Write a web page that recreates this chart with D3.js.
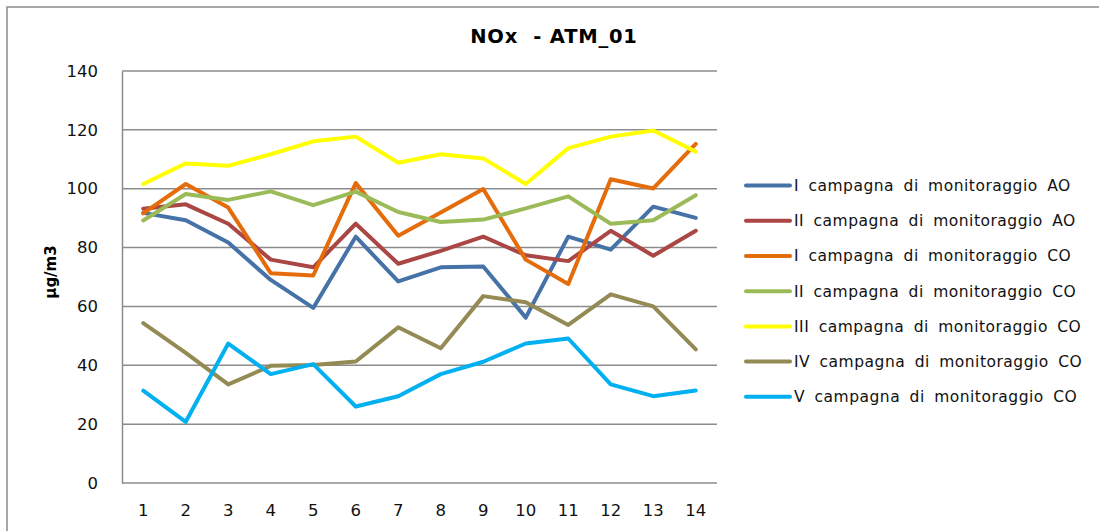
<!DOCTYPE html>
<meta charset="utf-8">
<style>
body { margin: 0; background: #fff; }
svg { font-family: "DejaVu Sans", Verdana, sans-serif; }
.grid line { stroke: #8c8c8c; stroke-width: 1.5px; }
.tick text { font-family: "DejaVu Sans", Verdana, sans-serif; font-size: 16.5px; fill: #111; }
.legend text { font-size: 15.5px; letter-spacing: 0.5px; word-spacing: 4px; fill: #111; }
</style>
<svg width="1099" height="531"></svg>
<script src="https://d3js.org/d3.v7.min.js"></script>
<script>
var categories = [1, 2, 3, 4, 5, 6, 7, 8, 9, 10, 11, 12, 13, 14];
var yTicks = [0, 20, 40, 60, 80, 100, 120, 140];

var seriesNames = [
  "I campagna di monitoraggio AO",
  "II campagna di monitoraggio AO",
  "I campagna di monitoraggio CO",
  "II campagna di monitoraggio CO",
  "III campagna di monitoraggio CO",
  "IV campagna di monitoraggio CO",
  "V campagna di monitoraggio CO"
];
var seriesColors = ["#4572a7", "#aa4643", "#e46c0a", "#9bbb59", "#ffff00", "#948a54", "#00b0f0"];

var iAO   = [91.8, 89.3, 81.7, 69.0, 59.5, 83.7, 68.5, 73.3, 73.6, 56.2, 83.7, 79.3, 93.9, 90.1];
var iiAO  = [93.2, 94.7, 88.1, 75.9, 73.3, 88.1, 74.5, 78.9, 83.7, 77.4, 75.4, 85.7, 77.2, 85.7];
var iCO   = [91.6, 101.6, 93.6, 71.3, 70.5, 101.9, 84.0, 91.9, 99.9, 75.9, 67.6, 103.2, 100.1, 115.2];
var iiCO  = [89.2, 98.2, 96.2, 99.1, 94.4, 99.0, 92.1, 88.7, 89.5, 93.3, 97.4, 88.1, 89.3, 97.8];
var iiiCO = [101.6, 108.6, 107.8, 111.7, 116.1, 117.7, 108.8, 111.7, 110.3, 101.6, 113.8, 117.7, 119.8, 112.6];
var ivCO  = [54.3, 44.2, 33.5, 39.8, 40.1, 41.3, 52.9, 45.8, 63.5, 61.4, 53.7, 64.1, 60.0, 45.4];
var vCO   = [31.4, 20.8, 47.4, 37.0, 40.4, 26.0, 29.5, 37.0, 41.2, 47.4, 49.1, 33.5, 29.5, 31.4];

var seriesValues = [iAO, iiAO, iCO, iiCO, iiiCO, ivCO, vCO];

var svg = d3.select("svg");

// outer chart frame (right and bottom edges run off the picture)
svg.append("rect")
    .attr("x", 7).attr("y", 7)
    .attr("width", 1120).attr("height", 560)
    .attr("fill", "none")
    .attr("stroke", "#8c8c8c")
    .attr("stroke-width", 1.5);

var plot = { left: 122, right: 717, top: 71, bottom: 483 };

var x = d3.scaleBand()
    .domain(categories)
    .range([plot.left, plot.right]);

var y = d3.scaleLinear()
    .domain([0, 140])
    .range([plot.bottom, plot.top]);

// horizontal gridlines
svg.append("g")
    .attr("class", "grid")
    .selectAll("line")
    .data(yTicks.slice(1))
    .enter().append("line")
    .attr("x1", plot.left).attr("x2", plot.right)
    .attr("y1", function(d) { return y(d); })
    .attr("y2", function(d) { return y(d); });

// y axis
var yAxis = svg.append("g")
    .attr("transform", "translate(" + plot.left + ",0)")
    .call(d3.axisLeft(y).tickValues(yTicks).tickSize(0).tickPadding(24));
yAxis.select(".domain").attr("stroke", "#8c8c8c").attr("stroke-width", 1.5);

// x axis
var xAxis = svg.append("g")
    .attr("transform", "translate(0," + plot.bottom + ")")
    .call(d3.axisBottom(x).tickSize(0).tickPadding(21));
xAxis.select(".domain").attr("stroke", "#8c8c8c").attr("stroke-width", 1.5)
    .attr("d", "M" + plot.left + ",0H" + plot.right);

// lines
var line = d3.line()
    .x(function(d, i) { return x(categories[i]) + x.bandwidth() / 2; })
    .y(function(d) { return y(d); });

svg.append("g")
    .selectAll("path")
    .data(seriesValues)
    .enter().append("path")
    .attr("fill", "none")
    .attr("stroke", function(d, i) { return seriesColors[i]; })
    .attr("stroke-width", 4)
    .attr("stroke-linejoin", "round")
    .attr("stroke-linecap", "round")
    .attr("d", line);

// title
svg.append("text")
    .attr("x", 554).attr("y", 43)
    .attr("text-anchor", "middle")
    .style("font-size", "19.5px")
    .style("font-weight", "bold")
    .style("letter-spacing", "0.8px")
    .style("white-space", "pre")
    .text("NOx  - ATM_01");

// y axis title
svg.append("text")
    .attr("transform", "translate(56,272) rotate(-90)")
    .attr("text-anchor", "middle")
    .style("font-size", "15px")
    .style("font-weight", "bold")
    .text("µg/m3");

// legend
var legend = svg.append("g")
    .attr("class", "legend")
    .selectAll("g")
    .data(seriesNames)
    .enter().append("g")
    .attr("transform", function(d, i) { return "translate(746," + (185.6 + i * 35.2) + ")"; });

legend.append("line")
    .attr("x1", 0).attr("x2", 44)
    .attr("stroke", function(d, i) { return seriesColors[i]; })
    .attr("stroke-width", 4)
    .attr("stroke-linecap", "round");

legend.append("text")
    .attr("x", 48).attr("dy", "0.35em")
    .text(function(d) { return d; });
</script>
